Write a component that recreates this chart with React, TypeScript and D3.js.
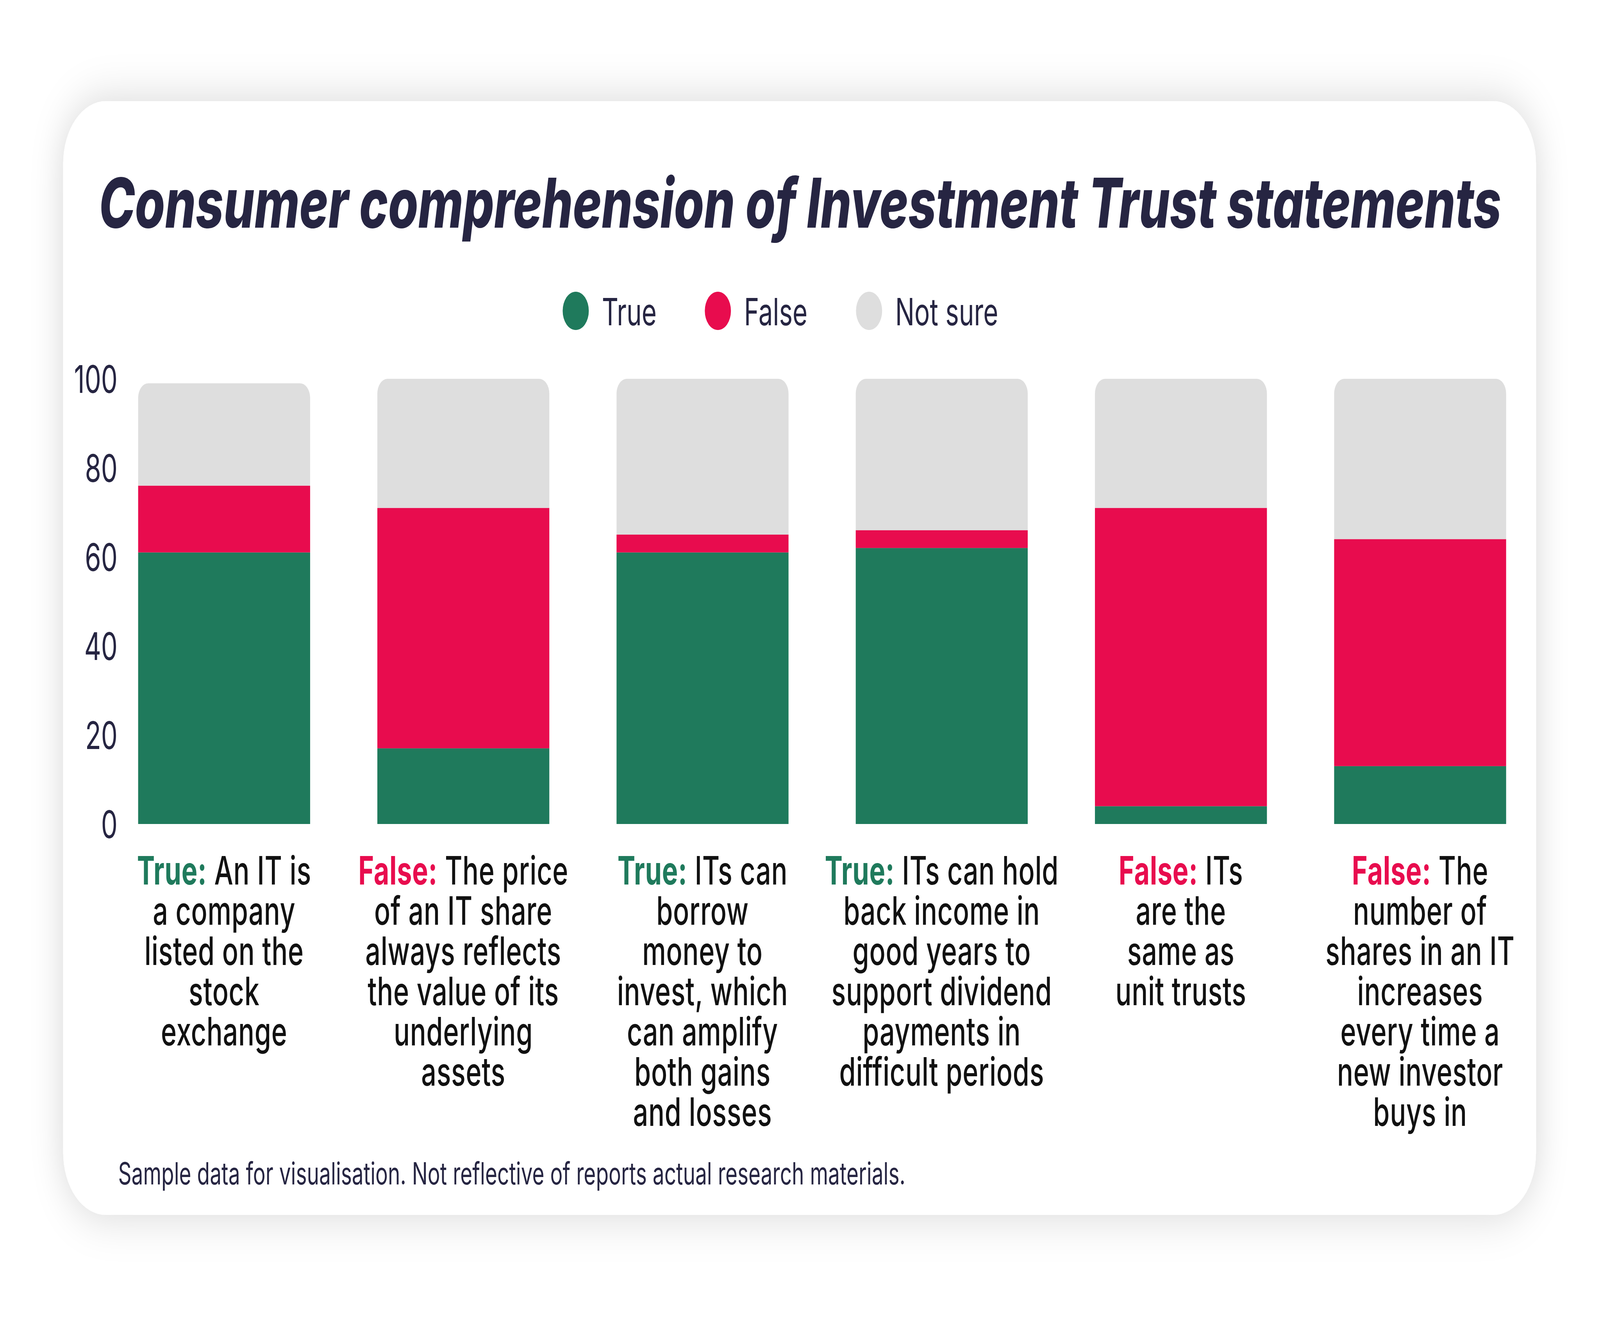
import { useEffect } from "react";
import * as d3 from "d3";

const KEYS = ["true", "false", "notSure"];
const SERIES_NAMES = ["True", "False", "Not sure"];
const COLORS = ["#1f7a5c", "#e80c4e", "#dedede"];

const TRUE_VALUES = [61, 17, 61, 62, 4, 13];
const FALSE_VALUES = [15, 54, 4, 4, 67, 51];
const NOT_SURE_VALUES = [23, 29, 35, 34, 29, 36];

const ANSWERS = ["True:", "False:", "True:", "True:", "False:", "False:"];
const LABEL_LINES = [
  [" An IT is", "a company", "listed on the", "stock", "exchange"],
  [" The price", "of an IT share", "always reflects", "the value of its", "underlying", "assets"],
  [" ITs can", "borrow", "money to", "invest, which", "can amplify", "both gains", "and losses"],
  [" ITs can hold", "back income in", "good years to", "support dividend", "payments in", "difficult periods"],
  [" ITs", "are the", "same as", "unit trusts"],
  [" The", "number of", "shares in an IT", "increases", "every time a", "new investor", "buys in"],
];

const Y_TICKS = [0, 20, 40, 60, 80, 100];

const TITLE = "Consumer comprehension of Investment Trust statements";
const FOOTNOTE = "Sample data for visualisation. Not reflective of reports actual research materials.";

const W = 6000;
const H = 3375;
const NAVY = "#262542";
const FONT = "Inter, 'Noto Sans', sans-serif";

export default function App() {
  useEffect(() => {
    document.body.style.margin = "0";
    document.body.style.overflow = "hidden";
  }, []);

  const rows = TRUE_VALUES.map((t, i) => ({
    idx: i,
    true: t,
    false: FALSE_VALUES[i],
    notSure: NOT_SURE_VALUES[i],
  }));

  const x = d3
    .scaleBand<number>()
    .domain(rows.map((r) => r.idx))
    .range([392, 5774])
    .paddingInner(0.281)
    .paddingOuter(0.1405);
  const y = d3.scaleLinear().domain([0, 100]).range([2110, 970]);
  const color = d3.scaleOrdinal<string, string>().domain(KEYS).range(COLORS);

  const stacked = d3.stack<any>().keys(KEYS)(rows);

  // only the top segment gets rounded corners
  const topRounded = (x0: number, x1: number, y0: number, y1: number, r: number) => {
    const p = d3.path();
    p.moveTo(x0, y0);
    p.lineTo(x0, y1 + r);
    p.arcTo(x0, y1, x0 + r, y1, r);
    p.lineTo(x1 - r, y1);
    p.arcTo(x1, y1, x1, y1 + r, r);
    p.lineTo(x1, y0);
    p.closePath();
    return p.toString();
  };

  const legendX = [2159, 2692, 3259];

  return (
    <svg
      viewBox={`0 0 ${W} ${H}`}
      preserveAspectRatio="none"
      style={{ position: "fixed", left: 0, top: 0, width: "100vw", height: "100vh", display: "block", background: "#fff" }}
    >
      <defs>
        <filter id="cardShadow" x="-20%" y="-20%" width="140%" height="140%">
          <feDropShadow dx="0" dy="0" stdDeviation="60" floodColor="#000" floodOpacity="0.16" />
        </filter>
      </defs>

      {/* card */}
      <rect x={237} y={259} width={5523} height={2852} rx={160} fill="#fff" filter="url(#cardShadow)" />

      {/* title */}
      <text
        x={371}
        y={583}
        fontFamily={FONT}
        fontWeight={800}
        fontStyle="italic"
        fontSize={176}
        fill={NAVY}
        textLength={5259}
        lengthAdjust="spacingAndGlyphs"
      >
        {TITLE}
      </text>

      {/* legend */}
      {SERIES_NAMES.map((name, i) => (
        <g key={name}>
          <circle cx={legendX[i]} cy={796} r={49} fill={COLORS[i]} />
          <text x={legendX[i] + 98} y={833} fontFamily={FONT} fontSize={96} fill={NAVY}>
            {name}
          </text>
        </g>
      ))}

      {/* y axis labels */}
      {Y_TICKS.map((t) => (
        <text
          key={t}
          x={441}
          y={y(t)}
          textAnchor="end"
          dominantBaseline="central"
          fontFamily={FONT}
          fontSize={98}
          fill={NAVY}
        >
          {t}
        </text>
      ))}

      {/* bars */}
      {stacked.map((layer, li) => (
        <g key={layer.key} fill={color(layer.key)}>
          {layer.map((d, i) => {
            const x0 = x(i)!;
            const x1 = x0 + x.bandwidth();
            if (li === stacked.length - 1) {
              return <path key={i} d={topRounded(x0, x1, y(d[0]), y(d[1]), 38)} />;
            }
            return (
              <rect key={i} x={x0} y={y(d[1])} width={x.bandwidth()} height={y(d[0]) - y(d[1])} />
            );
          })}
        </g>
      ))}

      {/* category labels */}
      {LABEL_LINES.map((lines, i) => {
        const cx = x(i)! + x.bandwidth() / 2;
        return (
          <text
            key={i}
            textAnchor="middle"
            fontFamily={FONT}
            fontSize={100}
            fontWeight={500}
            letterSpacing={1}
            fill="#111"
          >
            {lines.map((line, j) => (
              <tspan key={j} x={cx} y={2265 + j * 103}>
                {j === 0 ? (
                  <>
                    <tspan fontWeight={700} fill={ANSWERS[i] === "True:" ? COLORS[0] : COLORS[1]}>
                      {ANSWERS[i]}
                    </tspan>
                    {line}
                  </>
                ) : (
                  line
                )}
              </tspan>
            ))}
          </text>
        );
      })}

      {/* footnote */}
      <text x={443} y={3033} fontFamily={FONT} fontSize={78} fill={NAVY}>
        {FOOTNOTE}
      </text>
    </svg>
  );
}
